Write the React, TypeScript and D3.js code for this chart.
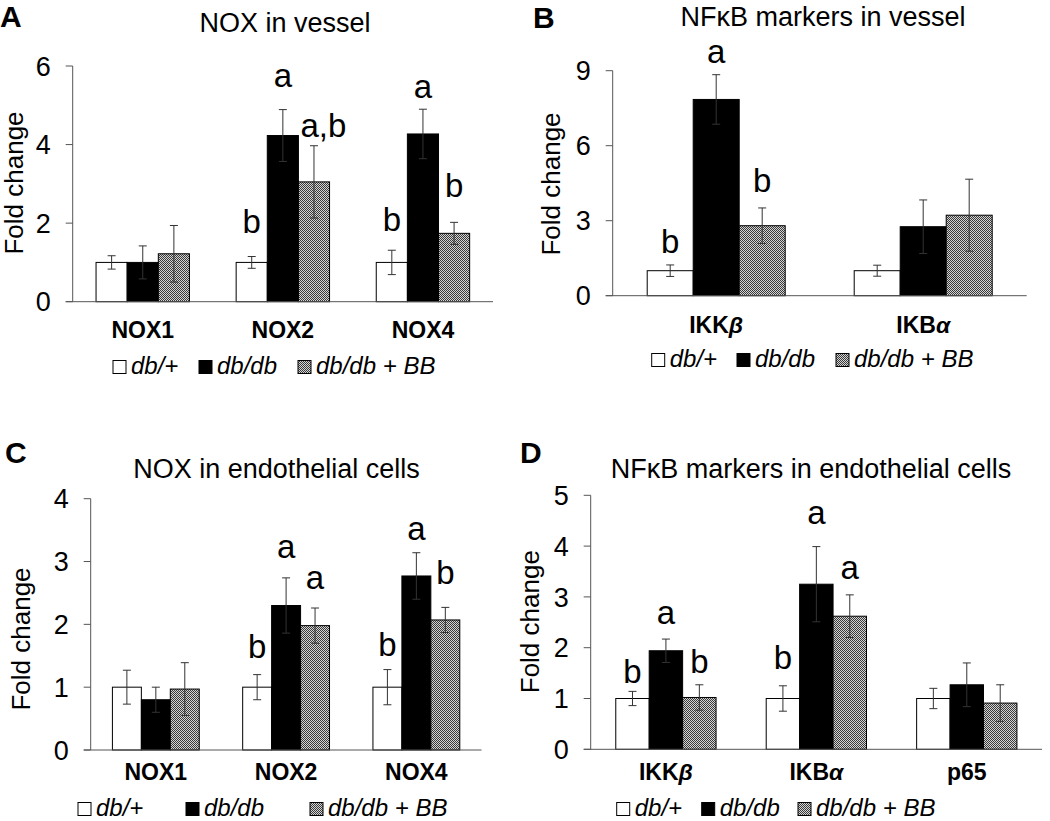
import React from "react";
import * as d3 from "d3";

// ---------- DATA ----------
const groups = ["db/+", "db/db", "db/db + BB"];

// Panel A: NOX in vessel
const catsA = ["NOX1", "NOX2", "NOX4"];
const ticksA = [0, 2, 4, 6];
const meanA_dbPlus = [1.0, 1.0, 1.0];
const errA_dbPlus = [0.17, 0.15, 0.31];
const meanA_dbdb = [1.0, 4.23, 4.27];
const errA_dbdb = [0.42, 0.66, 0.63];
const meanA_bb = [1.22, 3.05, 1.74];
const errA_bb = [0.72, 0.92, 0.28];
const lettersA = [["", "", ""], ["b", "a", "a,b"], ["b", "a", "b"]];
const letterPosA = [[0, 0, 0], [1.74, 5.46, 4.2], [1.81, 5.18, 2.67]];

// Panel B: NFkB markers in vessel
const catsB = ["IKKβ", "IKBα"];
const ticksB = [0, 3, 6, 9];
const meanB_dbPlus = [1.0, 1.0];
const errB_dbPlus = [0.23, 0.22];
const meanB_dbdb = [7.85, 2.76];
const errB_dbdb = [0.99, 1.07];
const meanB_bb = [2.8, 3.22];
const errB_bb = [0.71, 1.44];
const lettersB = [["b", "a", "b"], ["", "", ""]];
const letterPosB = [[1.7, 9.3, 4.16], [0, 0, 0]];

// Panel C: NOX in endothelial cells
const catsC = ["NOX1", "NOX2", "NOX4"];
const ticksC = [0, 1, 2, 3, 4];
const meanC_dbPlus = [1.0, 1.0, 1.0];
const errC_dbPlus = [0.27, 0.2, 0.28];
const meanC_dbdb = [0.8, 2.3, 2.77];
const errC_dbdb = [0.2, 0.44, 0.37];
const meanC_bb = [0.97, 1.98, 2.07];
const errC_bb = [0.42, 0.28, 0.2];
const lettersC = [["", "", ""], ["b", "a", "a"], ["b", "a", "b"]];
const letterPosC = [[0, 0, 0], [1.46, 3.05, 2.56], [1.49, 3.35, 2.65]];

// Panel D: NFkB markers in endothelial cells
const catsD = ["IKKβ", "IKBα", "p65"];
const ticksD = [0, 1, 2, 3, 4, 5];
const meanD_dbPlus = [1.0, 1.0, 1.0];
const errD_dbPlus = [0.14, 0.25, 0.2];
const meanD_dbdb = [1.94, 3.25, 1.27];
const errD_dbdb = [0.23, 0.74, 0.43];
const meanD_bb = [1.02, 2.62, 0.91];
const errD_bb = [0.25, 0.42, 0.36];
const lettersD = [["b", "a", "b"], ["b", "a", "a"], ["", "", ""]];
const letterPosD = [[1.31, 2.47, 1.51], [1.59, 4.43, 3.35], [0, 0, 0]];

// ---------- LAYOUT ----------
const FONT = "'Liberation Sans', Arial, Helvetica, sans-serif";

const panels = [
  {
    label: "A", labelX: 0, labelY: 27,
    title: "NOX in vessel", titleX: 285, titleY: 32,
    x0: 72.7, x1: 493, y0: 301.7, yTop: 66,
    ticks: ticksA, cats: catsA,
    means: [meanA_dbPlus, meanA_dbdb, meanA_bb],
    errs: [errA_dbPlus, errA_dbdb, errA_bb],
    letters: lettersA, letterPos: letterPosA,
    yLabX: 23, yLabY: 183, catY: 337.7,
    legY: 374, legX: [113, 199, 298],
  },
  {
    label: "B", labelX: 533, labelY: 28,
    title: "NFκB markers in vessel", titleX: 823, titleY: 26,
    x0: 612.7, x1: 1026.7, y0: 295.7, yTop: 70.7,
    ticks: ticksB, cats: catsB,
    means: [meanB_dbPlus, meanB_dbdb, meanB_bb],
    errs: [errB_dbPlus, errB_dbdb, errB_bb],
    letters: lettersB, letterPos: letterPosB,
    yLabX: 560, yLabY: 184, catY: 333.3,
    legY: 367, legX: [651.7, 737, 836],
  },
  {
    label: "C", labelX: 5, labelY: 463,
    title: "NOX in endothelial cells", titleX: 276.5, titleY: 478.3,
    x0: 90.7, x1: 481.5, y0: 750, yTop: 498.7,
    ticks: ticksC, cats: catsC,
    means: [meanC_dbPlus, meanC_dbdb, meanC_bb],
    errs: [errC_dbPlus, errC_dbdb, errC_bb],
    letters: lettersC, letterPos: letterPosC,
    yLabX: 30, yLabY: 639, catY: 780,
    legY: 816, legX: [78, 186, 310],
  },
  {
    label: "D", labelX: 520, labelY: 463,
    title: "NFκB markers in endothelial cells", titleX: 811, titleY: 478,
    x0: 590.7, x1: 1042, y0: 749.3, yTop: 495.3,
    ticks: ticksD, cats: catsD,
    means: [meanD_dbPlus, meanD_dbdb, meanD_bb],
    errs: [errD_dbPlus, errD_dbdb, errD_bb],
    letters: lettersD, letterPos: letterPosD,
    yLabX: 539, yLabY: 621.7, catY: 780,
    legY: 816, legX: [616.7, 701.7, 798],
  },
];

const fills = ["#ffffff", "#000000", "url(#hatch)"];
const AXIS = "#555";

function CatLabel({ text, x, y }: { text: string; x: number; y: number }) {
  const last = text.slice(-1);
  const greek = /[α-ω]/.test(last);
  return (
    <text x={x} y={y} textAnchor="middle" fontFamily={FONT} fontWeight="bold" fontSize={23} fill="#000">
      {greek ? (
        <>
          {text.slice(0, -1)}
          <tspan fontStyle="italic">{last}</tspan>
        </>
      ) : (
        text
      )}
    </text>
  );
}

function Panel({ p }: { p: (typeof panels)[number] }) {
  const maxV = p.ticks[p.ticks.length - 1];
  const y = d3.scaleLinear().domain([0, maxV]).range([p.y0, p.yTop]);
  const xb = d3.scaleBand<string>().domain(p.cats).range([p.x0, p.x1]).paddingInner(0).paddingOuter(0);
  const bw = xb.bandwidth();
  const xs = d3
    .scaleBand<string>()
    .domain(groups)
    .range([bw / 6, (bw * 5) / 6])
    .padding(0);
  const w = xs.bandwidth();
  const cap = 4;

  return (
    <g>
      <text x={p.labelX} y={p.labelY} fontFamily={FONT} fontWeight="bold" fontSize={30}>
        {p.label}
      </text>
      <text x={p.titleX} y={p.titleY} textAnchor="middle" fontFamily={FONT} fontSize={27}>
        {p.title}
      </text>
      <text
        transform={`translate(${p.yLabX},${p.yLabY}) rotate(-90)`}
        textAnchor="middle"
        fontFamily={FONT}
        fontSize={26}
      >
        Fold change
      </text>
      {/* y axis */}
      <line x1={p.x0} x2={p.x0} y1={y(0)} y2={y(maxV)} stroke={AXIS} strokeWidth={1} />
      {p.ticks.map((t) => (
        <g key={t}>
          <line x1={p.x0 - 7} x2={p.x0} y1={y(t)} y2={y(t)} stroke={AXIS} strokeWidth={1} />
          <text
            x={p.x0 - 22}
            y={y(t)}
            dy="0.36em"
            textAnchor="end"
            fontFamily={FONT}
            fontSize={27}
          >
            {t}
          </text>
        </g>
      ))}
      {/* bars */}
      {p.cats.map((c, ci) =>
        groups.map((g, gi) => {
          const v = p.means[gi][ci];
          const e = p.errs[gi][ci];
          const bx = (xb(c) as number) + (xs(g) as number);
          const cx = bx + w / 2;
          return (
            <g key={c + g}>
              <rect
                x={bx}
                y={y(v)}
                width={w}
                height={y(0) - y(v)}
                fill={fills[gi]}
                stroke="#000"
                strokeWidth={1}
              />
              <line x1={cx} x2={cx} y1={y(v - e)} y2={y(v + e)} stroke="#333" strokeWidth={1} />
              <line x1={cx - cap} x2={cx + cap} y1={y(v + e)} y2={y(v + e)} stroke="#333" strokeWidth={1} />
              <line x1={cx - cap} x2={cx + cap} y1={y(v - e)} y2={y(v - e)} stroke="#333" strokeWidth={1} />
            </g>
          );
        })
      )}
      {/* x axis */}
      <line x1={p.x0 - 7} x2={p.x1} y1={y(0)} y2={y(0)} stroke={AXIS} strokeWidth={1} />
      {/* significance letters */}
      {p.cats.map((c, ci) =>
        groups.map((g, gi) => {
          const lt = p.letters[ci][gi];
          if (!lt) return null;
          const bx = (xb(c) as number) + (xs(g) as number);
          const cx = bx + w / 2;
          const multi = lt.length > 1;
          return (
            <text
              key={"l" + c + g}
              x={multi ? bx + 2 : cx}
              y={y(p.letterPos[ci][gi])}
              textAnchor={multi ? "start" : "middle"}
              fontFamily={FONT}
              fontSize={33}
            >
              {lt}
            </text>
          );
        })
      )}
      {/* category labels */}
      {p.cats.map((c) => (
        <CatLabel key={"c" + c} text={c} x={(xb(c) as number) + bw / 2} y={p.catY} />
      ))}
      {/* legend */}
      {groups.map((g, gi) => (
        <g key={"lg" + g}>
          <rect
            x={p.legX[gi]}
            y={p.legY - 13.5}
            width={13}
            height={13}
            fill={fills[gi]}
            stroke="#000"
            strokeWidth={1}
          />
          <text x={p.legX[gi] + 18} y={p.legY} fontFamily={FONT} fontStyle="italic" fontSize={24}>
            {g}
          </text>
        </g>
      ))}
    </g>
  );
}

export default function App() {
  return (
    <svg
      width={1050}
      height={821}
      viewBox="0 0 1050 821"
      style={{ position: "absolute", left: 0, top: 0, background: "#fff" }}
    >
      <defs>
        <pattern id="hatch" width={2} height={2} patternUnits="userSpaceOnUse">
          <rect x={0} y={0} width={2} height={2} fill="#d4d4d4" />
          <rect x={0} y={0} width={1} height={1} fill="#3a3a3a" />
          <rect x={1} y={1} width={1} height={1} fill="#3a3a3a" />
        </pattern>
      </defs>
      <rect x={0} y={0} width={1050} height={821} fill="#fff" />
      {panels.map((p) => (
        <Panel key={p.label} p={p} />
      ))}
    </svg>
  );
}
